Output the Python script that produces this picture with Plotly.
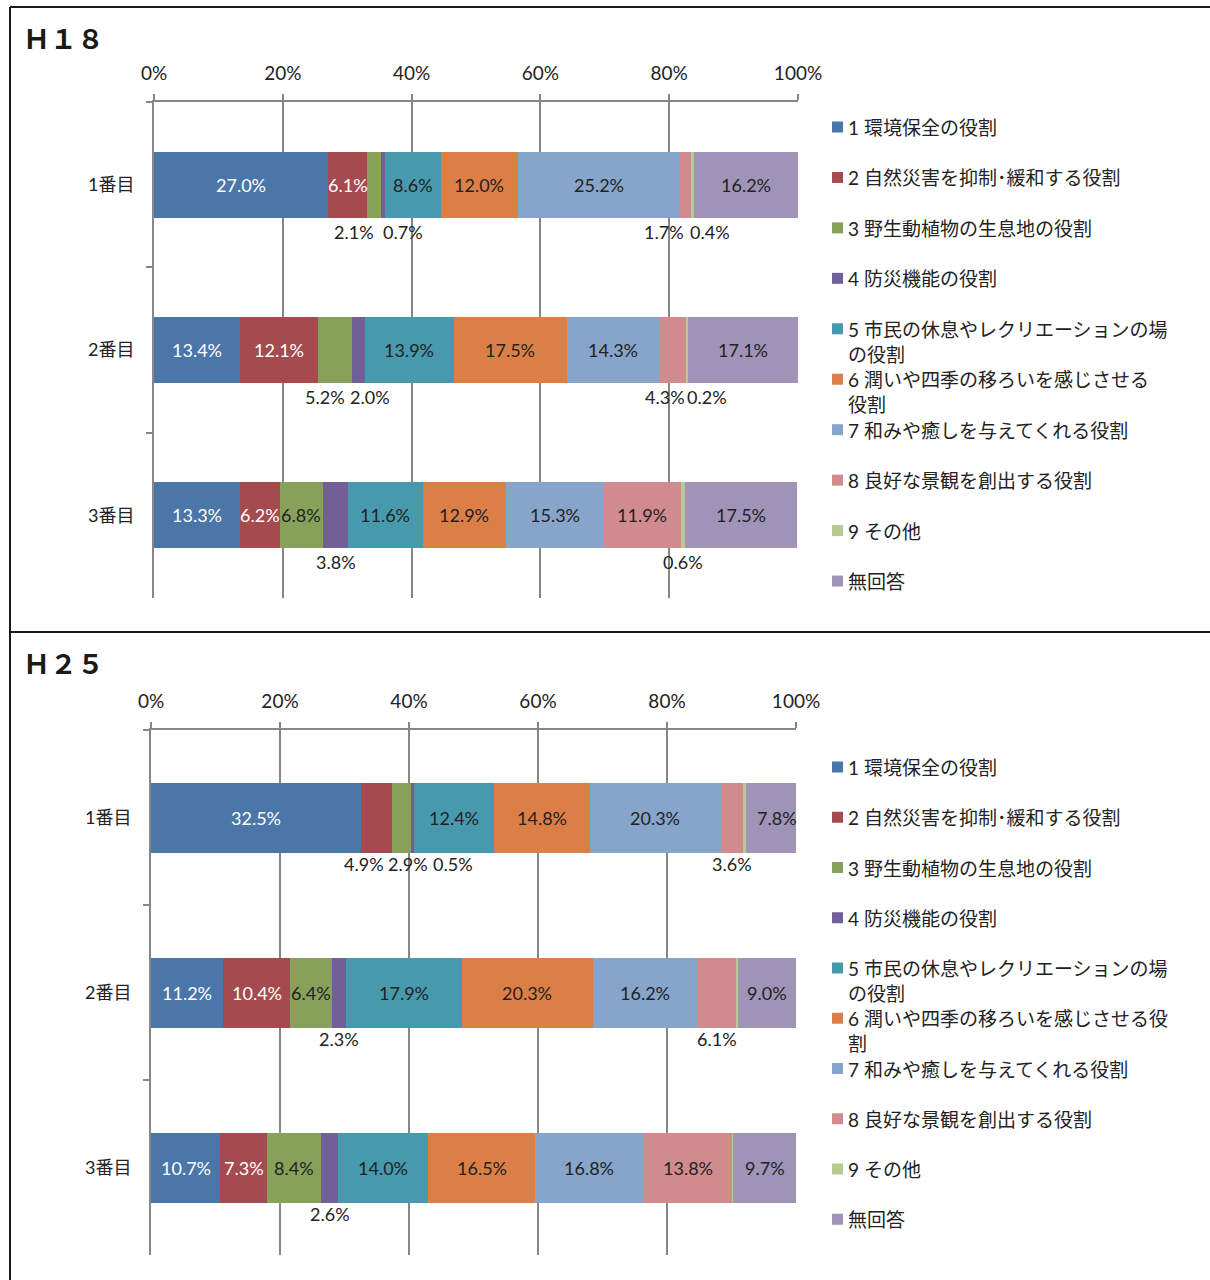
import plotly.graph_objects as go

FIG_W, FIG_H = 1210, 1280

# ---- data -------------------------------------------------------------
ranks = ["1番目", "2番目", "3番目"]
x_ticks = [0, 20, 40, 60, 80, 100]
x_tick_text = ["0%", "20%", "40%", "60%", "80%", "100%"]

series_colors = ["#4a76a8", "#a54a4f", "#88a15a", "#715f98", "#4799ae",
                 "#dc7f47", "#87a4cb", "#d18b8e", "#b5cb92", "#a093b8"]

h18_legend = ["1 環境保全の役割",
              "2 自然災害を抑制･緩和する役割",
              "3 野生動植物の生息地の役割",
              "4 防災機能の役割",
              "5 市民の休息やレクリエーションの場<br>の役割",
              "6 潤いや四季の移ろいを感じさせる<br>役割",
              "7 和みや癒しを与えてくれる役割",
              "8 良好な景観を創出する役割",
              "9 その他",
              "無回答"]
h25_legend = ["1 環境保全の役割",
              "2 自然災害を抑制･緩和する役割",
              "3 野生動植物の生息地の役割",
              "4 防災機能の役割",
              "5 市民の休息やレクリエーションの場<br>の役割",
              "6 潤いや四季の移ろいを感じさせる役<br>割",
              "7 和みや癒しを与えてくれる役割",
              "8 良好な景観を創出する役割",
              "9 その他",
              "無回答"]

h18_rank1 = [27.0, 6.1, 2.1, 0.7, 8.6, 12.0, 25.2, 1.7, 0.4, 16.2]
h18_rank2 = [13.4, 12.1, 5.2, 2.0, 13.9, 17.5, 14.3, 4.3, 0.2, 17.1]
h18_rank3 = [13.3, 6.2, 6.8, 3.8, 11.6, 12.9, 15.3, 11.9, 0.6, 17.5]

h25_rank1 = [32.5, 4.9, 2.9, 0.5, 12.4, 14.8, 20.3, 3.6, 0.3, 7.8]
h25_rank2 = [11.2, 10.4, 6.4, 2.3, 17.9, 20.3, 16.2, 6.1, 0.2, 9.0]
h25_rank3 = [10.7, 7.3, 8.4, 2.6, 14.0, 16.5, 16.8, 13.8, 0.2, 9.7]

# ---- label placement (style) -------------------------------------------
# labels drawn under the bar: (rank, series) -> horizontal nudge in px
h18_below = {(0, 2): -20, (0, 3): 20, (0, 7): -22, (0, 8): 18,
             (1, 2): -10, (1, 3): 12, (1, 7): -8, (1, 8): 20,
             (2, 3): 0, (2, 8): 0}
h25_below = {(0, 1): -12, (0, 2): 6, (0, 3): 40, (0, 7): 0,
             (1, 3): 0, (1, 7): 0, (2, 3): 0}
h25_hidden = {(0, 8), (1, 8), (2, 8)}
h25_nudge = {(0, 9): 6}

LATIN = "Lato, 'Noto Sans CJK JP', sans-serif"
CJK = "'Noto Sans CJK JP', sans-serif"
GRID = "#878787"
TEXT = "#222222"


def px(x):
    return x / FIG_W


def py(y):
    return 1 - y / FIG_H


panels = [
    dict(title="Ｈ１８", title_y=37, rows=[h18_rank1, h18_rank2, h18_rank3],
         legend=h18_legend, below=h18_below, hidden=set(), nudge={},
         x0=154, x1=798, y0=102, y1=598, leg_y=127, leg_step=50.45,
         below_shift=-47, xa="x", ya="y"),
    dict(title="Ｈ２５", title_y=662, rows=[h25_rank1, h25_rank2, h25_rank3],
         legend=h25_legend, below=h25_below, hidden=h25_hidden, nudge=h25_nudge,
         x0=151, x1=796, y0=730, y1=1255, leg_y=767, leg_step=50.25,
         below_shift=-46, xa="x2", ya="y2"),
]

fig = go.Figure()
annotations = []
shapes = []

for p in panels:
    rows = p["rows"]
    # stacked horizontal bars, one trace per answer
    for s in range(len(series_colors)):
        fig.add_trace(go.Bar(
            y=ranks, x=[r[s] for r in rows], orientation="h",
            marker=dict(color=series_colors[s], line=dict(width=0)),
            xaxis=p["xa"], yaxis=p["ya"], showlegend=False, hoverinfo="skip"))

    # percentage labels
    for ri, r in enumerate(rows):
        start = 0.0
        for s, v in enumerate(r):
            mid = start + v / 2
            start += v
            key = (ri, s)
            if key in p["hidden"]:
                continue
            if key in p["below"]:
                annotations.append(dict(
                    x=mid, y=ranks[ri], xref=p["xa"], yref=p["ya"],
                    text=f"{v:.1f}%", showarrow=False,
                    xshift=p["below"][key], yshift=p["below_shift"],
                    font=dict(family=LATIN, size=18, color=TEXT)))
            else:
                annotations.append(dict(
                    x=mid, y=ranks[ri], xref=p["xa"], yref=p["ya"],
                    text=f"{v:.1f}%", showarrow=False,
                    xshift=p["nudge"].get(key, 0),
                    font=dict(family=LATIN, size=18,
                              color="white" if s < 2 else TEXT)))

    # panel title
    annotations.append(dict(
        x=px(21), y=py(p["title_y"]), xref="paper", yref="paper",
        xanchor="left", yanchor="middle", text=p["title"], showarrow=False,
        font=dict(family=CJK, size=27, color="#1a1a1a", weight="bold")))

    # legend: colour squares with names
    for s, name in enumerate(p["legend"]):
        cy = p["leg_y"] + s * p["leg_step"]
        shapes.append(dict(type="rect", xref="paper", yref="paper",
                           x0=px(832), x1=px(843), y0=py(cy + 5.5), y1=py(cy - 5.5),
                           fillcolor=series_colors[s], line=dict(width=0)))
        annotations.append(dict(
            x=px(846), y=py(cy - 13), xref="paper", yref="paper",
            xanchor="left", yanchor="top", align="left", text=name,
            showarrow=False, font=dict(family=LATIN, size=19, color=TEXT)))

    axis_x = dict(domain=[px(p["x0"]), px(p["x1"])], range=[0, 100],
                  side="top", tickvals=x_ticks, ticktext=x_tick_text,
                  showgrid=True, gridcolor=GRID, gridwidth=1.5,
                  showline=True, linecolor=GRID, linewidth=2,
                  ticks="outside", ticklen=6, tickcolor=GRID, tickwidth=1.5,
                  ticklabelstandoff=6, zeroline=False, fixedrange=True,
                  automargin=False,
                  tickfont=dict(family=LATIN, size=19, color=TEXT),
                  anchor=p["ya"])
    axis_y = dict(domain=[py(p["y1"]), py(p["y0"])], type="category",
                  categoryorder="array", categoryarray=ranks,
                  autorange="reversed", tickson="boundaries",
                  ticks="outside", ticklen=6, tickcolor=GRID, tickwidth=1.5,
                  showline=True, linecolor=GRID, linewidth=2, showgrid=False,
                  ticklabelstandoff=14, fixedrange=True, automargin=False,
                  tickfont=dict(family=LATIN, size=18, color=TEXT),
                  anchor=p["xa"])
    if p["xa"] == "x":
        fig.update_layout(xaxis=axis_x, yaxis=axis_y)
    else:
        fig.update_layout(xaxis2=axis_x, yaxis2=axis_y)

# frame lines around the two panels
frame = dict(color="#1a1a1a", width=2)
shapes += [
    dict(type="line", xref="paper", yref="paper", x0=px(10), x1=1, y0=py(7), y1=py(7), line=frame),
    dict(type="line", xref="paper", yref="paper", x0=px(10), x1=px(10), y0=py(7), y1=0, line=frame),
    dict(type="line", xref="paper", yref="paper", x0=px(10), x1=1, y0=py(632), y1=py(632), line=frame),
]

fig.update_layout(
    width=FIG_W, height=FIG_H, autosize=False, barmode="stack", bargap=0.6,
    margin=dict(l=0, r=0, t=0, b=0, pad=0, autoexpand=False),
    paper_bgcolor="white", plot_bgcolor="white",
    annotations=annotations, shapes=shapes, showlegend=False)

fig.write_html("out.html")
